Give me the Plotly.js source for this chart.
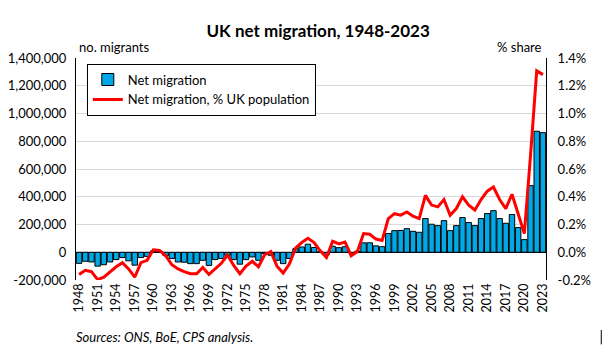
<!DOCTYPE html>
<html><head><meta charset="utf-8">
<script src="https://cdn.plot.ly/plotly-3.0.1.min.js"></script>
<style>html,body{margin:0;padding:0;background:#fff}</style>
</head><body>
<div id="chart" style="width:606px;height:360px"></div>
<script>
const years = [];
for (let y = 1948; y <= 2023; y++) years.push(y);

const netMigration = [
  -80000, -65000, -70000, -100000, -90000, -70000, -53000, -38000, -62000, -93000,
  -38000, -30000, 10000, 8000, -25000, -45000, -70000, -72000, -82000, -82000,
  -58000, -95000, -53000, -45000, -22000, -53000, -86000, -53000, -34000, -58000,
  -10000, -22000, -58000, -82000, -45000, 26000, 38000, 58000, 34000, 5000,
  -20000, 43000, 33000, 40000, -5000, 8000, 68000, 68000, 46000, 40000,
  135000, 156000, 157000, 170000, 151000, 144000, 243000, 202000, 192000, 228000,
  156000, 192000, 250000, 214000, 192000, 243000, 279000, 300000, 243000, 209000,
  272000, 178000, 91000, 480000, 872000, 862000
];

const sharePct = [
  -0.16, -0.13, -0.14, -0.197, -0.18, -0.14, -0.105, -0.075, -0.12, -0.18,
  -0.075, -0.058, 0.018, 0.013, -0.025, -0.09, -0.12, -0.14, -0.155, -0.155,
  -0.11, -0.16, -0.12, -0.08, -0.02, -0.095, -0.155, -0.1, -0.065, -0.105,
  -0.018, 0.005, -0.1, -0.15, -0.085, 0.03, 0.07, 0.1, 0.07, 0.01,
  -0.038, 0.08, 0.06, 0.074, -0.025, 0.005, 0.135, 0.13, 0.095, 0.085,
  0.243, 0.278, 0.267, 0.29, 0.26, 0.243, 0.41, 0.34, 0.327, 0.38,
  0.267, 0.315, 0.40, 0.34, 0.305, 0.38, 0.44, 0.47, 0.38, 0.315,
  0.418, 0.279, 0.135, 0.70, 1.307, 1.28
];

const xTickVals = [];
for (let y = 1948; y <= 2023; y += 3) xTickVals.push(y);
const leftTicks = [-200000, 0, 200000, 400000, 600000, 800000, 1000000, 1200000, 1400000];
const rightTicks = [-0.2, 0, 0.2, 0.4, 0.6, 0.8, 1.0, 1.2, 1.4];

const FONT = 'Lato, "Open Sans", sans-serif';

const traces = [
  {
    type: 'bar', x: years, y: netMigration, name: 'Net migration',
    marker: {color: '#00A9E6', line: {color: '#000', width: 1}},
    yaxis: 'y'
  },
  {
    type: 'scatter', mode: 'lines', x: years, y: sharePct,
    name: 'Net migration, % UK population',
    line: {color: '#FF0000', width: 3}, yaxis: 'y2'
  }
];

const layout = {
  width: 606, height: 360,
  margin: {l: 76, r: 60, t: 58, b: 80},
  paper_bgcolor: '#fff', plot_bgcolor: '#fff',
  font: {family: FONT, size: 13, color: '#000'},
  title: {text: '<b>UK net migration, 1948-2023</b>', x: 0.525, xanchor: 'center', y: 0.915, yanchor: 'middle',
          font: {family: FONT, size: 17, color: '#000'}},
  bargap: 0.12,
  showlegend: true,
  legend: {x: 0.023, y: 0.975, xanchor: 'left', yanchor: 'top', bgcolor: '#fff',
           bordercolor: '#000', borderwidth: 1, font: {family: FONT, size: 13, color: '#000'},
           tracegroupgap: 0, itemwidth: 30},
  xaxis: {
    type: 'linear', range: [1947.5, 2023.5], tickmode: 'array', tickvals: xTickVals,
    ticktext: xTickVals.map(String), tickangle: -90, showgrid: false, zeroline: false,
    showline: false, ticks: '', tickfont: {family: FONT, size: 12.5, color: '#000'}
  },
  yaxis: {
    range: [-200000, 1400000], tickmode: 'array', tickvals: leftTicks,
    ticktext: leftTicks.map(v => v.toLocaleString('en-US')),
    showgrid: true, gridcolor: '#d9d9d9', gridwidth: 1,
    zeroline: true, zerolinecolor: '#000', zerolinewidth: 1,
    showline: true, linecolor: '#000', linewidth: 1, ticks: '',
    tickfont: {family: FONT, size: 13, color: '#000'}, ticklabelstandoff: 6
  },
  yaxis2: {
    range: [-0.2, 1.4], overlaying: 'y', side: 'right', tickmode: 'array', tickvals: rightTicks,
    ticktext: rightTicks.map(v => v.toFixed(1) + '%'),
    showgrid: false, zeroline: false, showline: true, linecolor: '#000', linewidth: 1, ticks: '',
    tickfont: {family: FONT, size: 13, color: '#000'}, ticklabelstandoff: 8
  },
  annotations: [
    {text: 'no. migrants', xref: 'paper', yref: 'paper', x: 0.003, y: 1.0, xanchor: 'left', yanchor: 'bottom',
     showarrow: false, font: {family: FONT, size: 13, color: '#000'}, yshift: 1},
    {text: '% share', xref: 'paper', yref: 'paper', x: 0.995, y: 1.0, xanchor: 'right', yanchor: 'bottom',
     showarrow: false, font: {family: FONT, size: 13, color: '#000'}, yshift: 1},
    {text: '<i>Sources: ONS, BoE, CPS analysis.</i>', xref: 'paper', yref: 'paper', x: -0.004, y: -0.21,
     xanchor: 'left', yanchor: 'top', showarrow: false, font: {family: FONT, size: 13, color: '#000'}}
  ],
  shapes: [
    {type: 'line', xref: 'paper', yref: 'paper', x0: 1.1176, x1: 1.1176, y0: -0.225, y1: -0.29,
     line: {color: '#000', width: 1}}
  ]
};

Plotly.newPlot('chart', traces, layout, {displayModeBar: false, staticPlot: true});
</script>
</body></html>
